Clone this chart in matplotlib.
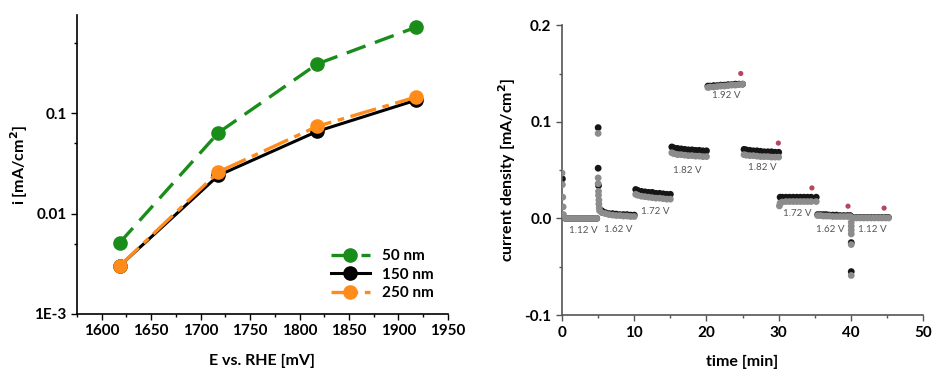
import numpy as np
import matplotlib
matplotlib.use('Agg')
import matplotlib.pyplot as plt
from matplotlib.ticker import FixedLocator, FixedFormatter, MultipleLocator

plt.rcParams['font.family'] = ['Lato', 'DejaVu Sans']

# ---- left panel: current vs potential (log scale)
potential = [1618, 1718, 1818, 1918]
i_50nm = [0.0051, 0.064, 0.31, 0.72]
i_150nm = [0.0030, 0.024, 0.066, 0.135]
i_250nm = [0.0030, 0.026, 0.074, 0.145]

# ---- right panel: chronoamperometry, two runs (black, gray)
black_t = [0.05, 0.5, 1.0, 1.5, 2.0, 2.5, 3.0, 3.5, 4.0, 4.5, 4.8,
           5.0, 5.0, 5.05, 5.5, 6.0, 6.5, 7.0, 7.5, 8.0, 8.5, 9.0, 9.5, 10.0,
           10.2, 10.5, 11.0, 11.5, 12.0, 12.5, 13.0, 13.5, 14.0, 14.5, 15.0,
           15.2, 15.5, 16.0, 16.5, 17.0, 17.5, 18.0, 18.5, 19.0, 19.5, 20.0,
           20.2, 20.5, 21.0, 21.5, 22.0, 22.5, 23.0, 23.5, 24.0, 24.5, 25.0,
           25.2, 25.5, 26.0, 26.5, 27.0, 27.5, 28.0, 28.5, 29.0, 29.5, 30.0,
           30.2, 30.5, 31.0, 31.5, 32.0, 32.5, 33.0, 33.5, 34.0, 34.5, 35.2,
           35.4, 35.8, 36.2, 36.6, 37.0, 37.5, 38.0, 38.5, 39.0, 39.5, 39.9,
           40.05, 40.05, 40.3, 40.8, 41.3, 41.8, 42.3, 42.8, 43.3, 43.8, 44.3, 44.8, 45.2]
black_i = [0.041, 0.000, 0.000, 0.000, 0.000, 0.000, 0.000, 0.000, 0.000, 0.000, 0.000,
           0.094, 0.052, 0.034, 0.008, 0.006, 0.005, 0.005, 0.0045, 0.004, 0.004, 0.004, 0.0035, 0.0035,
           0.030, 0.029, 0.028, 0.0275, 0.027, 0.027, 0.026, 0.026, 0.0255, 0.025, 0.025,
           0.074, 0.073, 0.0725, 0.072, 0.0715, 0.071, 0.071, 0.0705, 0.0705, 0.070, 0.070,
           0.137, 0.137, 0.1375, 0.1375, 0.138, 0.138, 0.1385, 0.1385, 0.139, 0.139, 0.139,
           0.0715, 0.071, 0.0705, 0.070, 0.070, 0.0695, 0.069, 0.069, 0.069, 0.0685, 0.0685,
           0.022, 0.022, 0.022, 0.022, 0.022, 0.022, 0.022, 0.022, 0.022, 0.022, 0.022,
           0.004, 0.004, 0.004, 0.004, 0.0035, 0.0035, 0.0035, 0.003, 0.003, 0.003, 0.003,
           -0.025, -0.055, 0.001, 0.001, 0.001, 0.001, 0.001, 0.001, 0.001, 0.001, 0.001, 0.001, 0.001]

gray_t = [0.0, 0.05, 0.1, 0.15, 0.2, 0.5, 1.0, 1.5, 2.0, 2.5, 3.0, 3.5, 4.0, 4.5, 4.8,
          5.0, 5.0, 5.0, 5.05, 5.05, 5.1, 5.1, 5.15, 5.2, 5.5, 6.0, 6.5, 7.0, 7.5, 8.0, 8.5, 9.0, 9.5, 10.0,
          10.2, 10.5, 11.0, 11.5, 12.0, 12.5, 13.0, 13.5, 14.0, 14.5, 15.0,
          15.2, 15.5, 16.0, 16.5, 17.0, 17.5, 18.0, 18.5, 19.0, 19.5, 20.0,
          20.2, 20.5, 21.0, 21.5, 22.0, 22.5, 23.0, 23.5, 24.0, 24.5, 25.0,
          25.2, 25.5, 26.0, 26.5, 27.0, 27.5, 28.0, 28.5, 29.0, 29.5, 30.0,
          30.1, 30.2, 30.5, 31.0, 31.5, 32.0, 32.5, 33.0, 33.5, 34.0, 34.5, 35.2,
          35.4, 35.8, 36.2, 36.6, 37.0, 37.5, 38.0, 38.5, 39.0, 39.5, 39.9,
          40.05, 40.05, 40.05, 40.05, 40.05, 40.05,
          40.3, 40.8, 41.3, 41.8, 42.3, 42.8, 43.3, 43.8, 44.3, 44.8, 45.2]
gray_i = [0.047, 0.035, 0.022, 0.012, 0.004, 0.000, 0.000, 0.000, 0.000, 0.000, 0.000, 0.000, 0.000, 0.000, 0.000,
          0.088, 0.042, 0.036, 0.028, 0.024, 0.019, 0.015, 0.011, 0.008, 0.006, 0.005, 0.004, 0.0035, 0.003, 0.003, 0.0025, 0.0025, 0.002, 0.002,
          0.025, 0.024, 0.023, 0.0225, 0.022, 0.0215, 0.021, 0.021, 0.0205, 0.020, 0.020,
          0.068, 0.067, 0.066, 0.066, 0.0655, 0.065, 0.065, 0.0645, 0.0645, 0.064, 0.064,
          0.1355, 0.136, 0.136, 0.1365, 0.137, 0.137, 0.1375, 0.138, 0.138, 0.1385, 0.139,
          0.066, 0.0655, 0.065, 0.065, 0.0645, 0.064, 0.064, 0.064, 0.0635, 0.0635, 0.0635,
          0.013, 0.016, 0.017, 0.0175, 0.0175, 0.0175, 0.0175, 0.0175, 0.0175, 0.0175, 0.0175, 0.0175,
          0.003, 0.003, 0.0025, 0.0025, 0.0025, 0.002, 0.002, 0.002, 0.002, 0.002, 0.002,
          -0.004, -0.008, -0.012, -0.016, -0.027, -0.059,
          0.0005, 0.0005, 0.0005, 0.0005, 0.0005, 0.0005, 0.0005, 0.0005, 0.0005, 0.0005, 0.0005]

star_t = [24.75, 29.95, 34.6, 39.6, 44.6]
star_i = [0.150, 0.078, 0.0316, 0.0127, 0.0107]

step_labels = ['1.12 V', '1.62 V', '1.72 V', '1.82 V', '1.92 V', '1.82 V', '1.72 V', '1.62 V', '1.12 V']
label_t = [2.9, 7.8, 12.95, 17.3, 22.8, 27.8, 32.6, 37.1, 42.9]
label_i = [-0.0125, -0.0115, 0.0075, 0.050, 0.1275, 0.053, 0.0048, -0.0115, -0.0115]

fig = plt.figure(figsize=(9.33, 3.76), dpi=100)

# left axes
ax1 = fig.add_axes([0.0825, 0.165, 0.3976, 0.795])
ax1.plot(potential, i_50nm, color='#1a8c1a', lw=2.4, ls=(0, (6, 3)), marker='o', ms=9.5, label='50 nm')
ax1.plot(potential, i_150nm, color='black', lw=2.2, marker='o', ms=9.5, label='150 nm')
ax1.plot(potential, i_250nm, color='#ff8c1a', lw=2.4, ls=(0, (8, 2, 2, 2)), marker='o', ms=9.5, label='250 nm')
ax1.set_yscale('log')
ax1.set_xlim(1575, 1950)
ax1.set_ylim(1e-3, 0.95)
ax1.yaxis.set_major_locator(FixedLocator([1e-3, 1e-2, 1e-1]))
ax1.yaxis.set_major_formatter(FixedFormatter(['1E-3', '0.01', '0.1']))
ax1.yaxis.set_minor_locator(FixedLocator([5e-3, 5e-2, 5e-1]))
ax1.yaxis.set_minor_formatter(FixedFormatter(['', '', '']))
ax1.xaxis.set_major_locator(MultipleLocator(50))
ax1.xaxis.set_minor_locator(MultipleLocator(25))
ax1.set_xlabel('E vs. RHE [mV]', fontsize=11.5, fontweight='bold', labelpad=11)
ax1.set_ylabel('i [mA/cm$^\\mathbf{2}$]', fontsize=11.5, fontweight='bold', labelpad=3)
ax1.legend(loc='lower right', frameon=False, handlelength=2.5,
           borderaxespad=0.3, labelspacing=0.3, bbox_to_anchor=(0.99, 0.01),
           prop={'weight': 'bold', 'size': 11})

# right axes
ax2 = fig.add_axes([0.6024, 0.162, 0.387, 0.771])
ax2.scatter(black_t, black_i, s=24, color='#151515', edgecolors='none', zorder=2)
ax2.scatter(gray_t, gray_i, s=24, color='#8c8c8c', edgecolors='none', zorder=3)
ax2.scatter(star_t, star_i, s=14, color='#b5485f', edgecolors='none', zorder=4)
for lab, tx, ty in zip(step_labels, label_t, label_i):
    ax2.text(tx, ty, lab, fontsize=7, color='#555555', ha='center', va='center', zorder=5)
ax2.set_xlim(0, 50)
ax2.set_ylim(-0.1, 0.2)
ax2.yaxis.set_major_locator(FixedLocator([-0.1, 0.0, 0.1, 0.2]))
ax2.yaxis.set_major_formatter(FixedFormatter(['-0.1', '0.0', '0.1', '0.2']))
ax2.yaxis.set_minor_locator(MultipleLocator(0.05))
ax2.xaxis.set_major_locator(MultipleLocator(10))
ax2.xaxis.set_minor_locator(MultipleLocator(5))
ax2.set_xlabel('time [min]', fontsize=11.5, fontweight='bold', labelpad=11)
ax2.set_ylabel('current density [mA/cm$^\\mathbf{2}$]', fontsize=11.5, fontweight='bold', labelpad=5)

for ax, spcol in ((ax1, 'black'), (ax2, '#555555')):
    ax.spines['top'].set_visible(False)
    ax.spines['right'].set_visible(False)
    ax.spines['left'].set_color(spcol)
    ax.spines['bottom'].set_color(spcol)
    ax.spines['left'].set_linewidth(1.2)
    ax.spines['bottom'].set_linewidth(1.2)
    ax.tick_params(which='major', direction='out', length=4, width=1, color=spcol, labelsize=11)
    ax.tick_params(which='minor', direction='out', length=2.5, width=1, color=spcol)
    for lbl in ax.get_xticklabels() + ax.get_yticklabels():
        lbl.set_fontweight('bold')

fig.savefig('out.png', dpi=100)
